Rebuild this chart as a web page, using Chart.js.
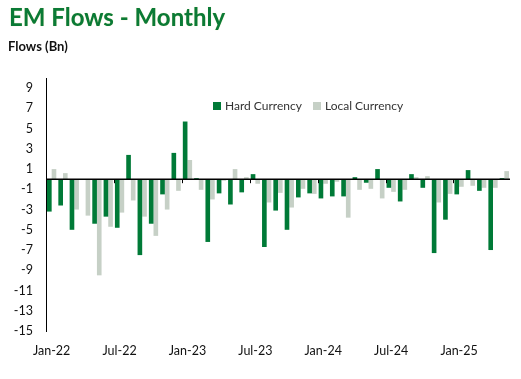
<!DOCTYPE html>
<html>
<head>
<meta charset="utf-8">
<script src="https://cdn.jsdelivr.net/npm/chart.js@4/dist/chart.umd.min.js"></script>
<style>
  html, body { margin: 0; padding: 0; background: #fff; }
  .wrap { position: relative; width: 521px; height: 379px; font-family: Lato, "Open Sans", sans-serif; }
  .title { position: absolute; left: 9px; top: 2px; font-size: 24px; font-weight: 700; color: #0a7a36; text-shadow: 0 0 1px #e6e2a8; white-space: nowrap; }
  .subtitle { position: absolute; left: 8px; top: 38px; font-size: 13px; font-weight: 700; color: #111; }
  .legend { position: absolute; left: 213px; top: 98px; font-size: 12px; color: #333; display: flex; align-items: center; }
  .legend .sw { width: 8px; height: 8px; display: inline-block; margin-right: 4px; }
  .legend .item { display: flex; align-items: center; margin-right: 11px; }
  canvas { position: absolute; left: 0; top: 0; }
</style>
</head>
<body>
<div class="wrap">
  <canvas id="chart" width="521" height="379"></canvas>
  <div class="title">EM Flows - Monthly</div>
  <div class="subtitle">Flows (Bn)</div>
  <div class="legend">
    <div class="item"><span class="sw" style="background:#007a37"></span>Hard Currency</div>
    <div class="item"><span class="sw" style="background:#c6d0c6"></span>Local Currency</div>
  </div>
</div>
<script>
// monthly categories Jan-22 .. May-25
const months = [
  'Jan-22','Feb-22','Mar-22','Apr-22','May-22','Jun-22','Jul-22','Aug-22','Sep-22','Oct-22','Nov-22','Dec-22',
  'Jan-23','Feb-23','Mar-23','Apr-23','May-23','Jun-23','Jul-23','Aug-23','Sep-23','Oct-23','Nov-23','Dec-23',
  'Jan-24','Feb-24','Mar-24','Apr-24','May-24','Jun-24','Jul-24','Aug-24','Sep-24','Oct-24','Nov-24','Dec-24',
  'Jan-25','Feb-25','Mar-25','Apr-25','May-25'
];

const hardCurrency = [
  -3.2, -2.6, -5.0, -0.05, -4.4, -3.7, -4.8, 2.4, -7.5, -4.4, -1.5, 2.6,
  5.7, 0.1, -6.2, -1.4, -2.5, -1.3, 0.5, -6.7, -3.1, -5.0, -1.8, -1.4,
  -1.9, -1.7, -1.7, 0.2, -0.35, 1.0, -0.85, -2.2, 0.5, -0.85, -7.3, -4.0,
  -1.5, 0.9, -1.15, -7.0, 0.1
];

const localCurrency = [
  1.0, 0.6, -3.0, -3.6, -9.5, -4.7, -3.3, -2.1, -3.7, -5.6, -3.0, -1.15,
  1.9, -1.05, -2.0, -0.15, 1.0, 0.2, -0.45, -2.3, -1.35, -2.8, -0.95, -1.45,
  -0.45, -0.25, -3.8, -1.05, -0.95, -1.9, -1.25, -1.05, 0.2, 0.3, -2.3, -1.45,
  -0.75, -0.65, -0.85, -0.85, 0.8
];

const yTicks = [-15, -13, -11, -9, -7, -5, -3, -1, 1, 3, 5, 7, 9];

// zero line + half-year tick marks, drawn over the bars like Excel does
const zeroLine = {
  id: 'zeroLine',
  afterDatasetsDraw(chart) {
    const { ctx, chartArea, scales } = chart;
    const y0 = scales.y.getPixelForValue(0);
    ctx.save();
    ctx.strokeStyle = '#000';
    ctx.lineWidth = 1.5;
    ctx.beginPath();
    ctx.moveTo(chartArea.left, y0);
    ctx.lineTo(chartArea.right, y0);
    ctx.stroke();
    const step = (chartArea.right - chartArea.left) / months.length;
    ctx.lineWidth = 1;
    for (let i = 6; i < months.length; i += 6) {
      const x = Math.round(chartArea.left + i * step) + 0.5;
      ctx.beginPath();
      ctx.moveTo(x, y0);
      ctx.lineTo(x, y0 + 4);
      ctx.stroke();
    }
    ctx.restore();
  }
};

new Chart(document.getElementById('chart'), {
  type: 'bar',
  data: {
    labels: months,
    datasets: [
      { label: 'Hard Currency', data: hardCurrency, backgroundColor: '#007a37', barPercentage: 1.0, categoryPercentage: 0.82 },
      { label: 'Local Currency', data: localCurrency, backgroundColor: '#c6d0c6', barPercentage: 1.0, categoryPercentage: 0.82 },
    ],
  },
  options: {
    responsive: false,
    animation: false,
    layout: { padding: { top: 78, right: 11, left: 0, bottom: 0 } },
    plugins: {
      legend: { display: false },
      tooltip: { enabled: false },
    },
    scales: {
      x: {
        grid: { display: false, drawTicks: false },
        border: { display: false },
        ticks: {
          autoSkip: false,
          maxRotation: 0,
          padding: 12,
          color: '#111',
          font: { family: 'Lato', size: 12.5 },
          callback: (v, i) => (i % 6 === 0 ? months[i] : ''),
        },
        afterFit: (s) => { s.height = 48; },
      },
      y: {
        min: -15,
        max: 10,
        grid: { display: false, drawTicks: false },
        border: { display: true, color: '#000', width: 1 },
        afterBuildTicks: (s) => { s.ticks = yTicks.map(v => ({ value: v })); },
        ticks: { padding: 13, color: '#111', font: { family: 'Lato', size: 12.5 } },
        afterFit: (s) => { s.width = 46; },
      },
    },
  },
  plugins: [zeroLine],
});
</script>
</body>
</html>
